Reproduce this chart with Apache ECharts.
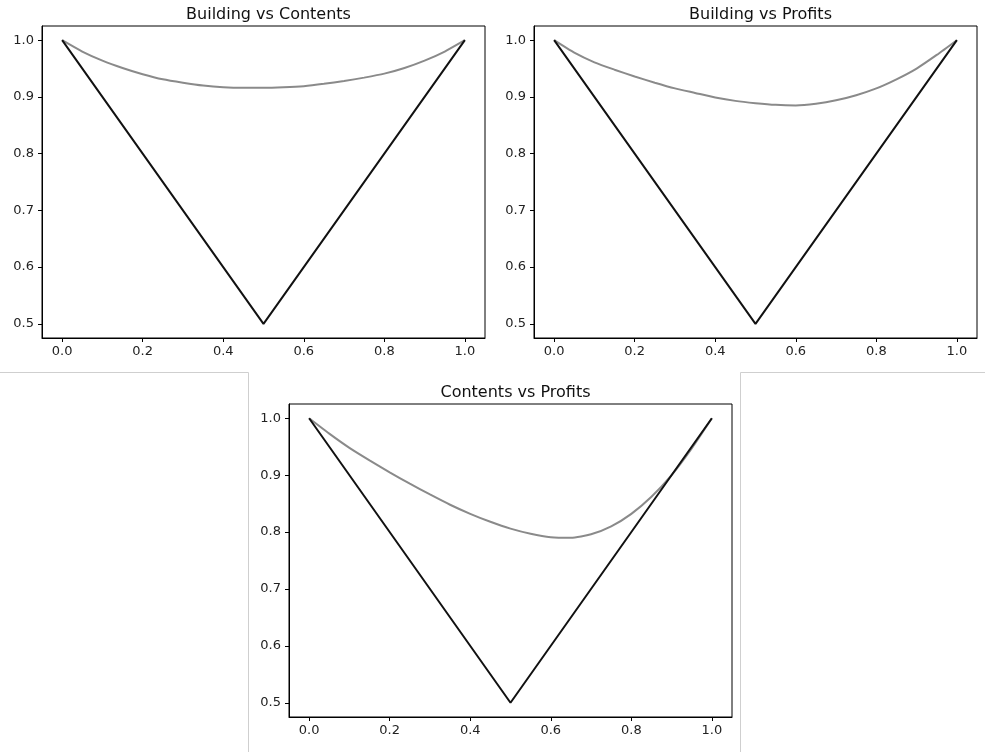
<!DOCTYPE html>
<html>
<head>
<meta charset="utf-8">
<script src="https://cdn.jsdelivr.net/npm/echarts@6/dist/echarts.min.js"></script>
<style>
  html, body { margin: 0; padding: 0; background: #fff; }
  #chart { width: 985px; height: 752px; }
</style>
</head>
<body>
<div id="chart"></div>
<script>
// Shared x positions for the dependence curves
const xs = [0, 0.05, 0.1, 0.15, 0.2, 0.25, 0.3, 0.35, 0.4, 0.45, 0.5,
            0.55, 0.6, 0.65, 0.7, 0.75, 0.8, 0.85, 0.9, 0.95, 1.0];

// Curve values per pair
const buildingContents = [1.0, 0.980, 0.964, 0.951, 0.940, 0.931, 0.925, 0.920, 0.917, 0.916, 0.916,
                          0.917, 0.919, 0.923, 0.928, 0.934, 0.941, 0.951, 0.964, 0.980, 1.0];
const buildingProfits  = [1.0, 0.978, 0.961, 0.948, 0.936, 0.925, 0.915, 0.907, 0.899, 0.893, 0.889,
                          0.886, 0.885, 0.888, 0.894, 0.903, 0.915, 0.931, 0.950, 0.974, 1.0];
const contentsProfits  = [1.0, 0.973, 0.948, 0.926, 0.905, 0.885, 0.866, 0.848, 0.832, 0.818, 0.806,
                          0.797, 0.791, 0.790, 0.796, 0.810, 0.832, 0.862, 0.900, 0.947, 1.0];

// Lower bound: max(t, 1 - t)
const boundX = [0, 0.5, 1];
const boundY = [1, 0.5, 1];

const titles = ['Building vs Contents', 'Building vs Profits', 'Contents vs Profits'];
const curves = [buildingContents, buildingProfits, contentsProfits];

const xTicks = [0, 0.2, 0.4, 0.6, 0.8, 1.0];
const yTicks = [0.5, 0.6, 0.7, 0.8, 0.9, 1.0];

const grids = [
  { left: 42, top: 26, width: 443, height: 312 },
  { left: 534, top: 26, width: 443, height: 312 },
  { left: 289, top: 404, width: 443, height: 313 }
];

const FONT = 'DejaVu Sans';
const pair = (a, b) => a.map((v, i) => [v, b[i]]);

const option = {
  animation: false,
  backgroundColor: '#fff',
  title: grids.map((g, i) => ({
    text: titles[i],
    left: g.left + g.width / 2,
    top: g.top - 24,
    textAlign: 'center',
    textStyle: { fontFamily: FONT, fontSize: 16, fontWeight: 'normal', color: '#111' }
  })),
  grid: grids.map(g => Object.assign({ show: true, borderColor: '#000', borderWidth: 1, backgroundColor: '#fff' }, g)),
  xAxis: grids.map((g, i) => ({
    type: 'value', gridIndex: i, min: -0.05, max: 1.05,
    splitLine: { show: false },
    axisLine: { show: true, onZero: false, lineStyle: { color: '#000', width: 1 } },
    axisTick: { show: true, length: 4, inside: false, customValues: xTicks, lineStyle: { color: '#000' } },
    axisLabel: { customValues: xTicks, margin: 7, color: '#222', fontFamily: FONT, fontSize: 13,
                 formatter: v => v.toFixed(1) }
  })),
  yAxis: grids.map((g, i) => ({
    type: 'value', gridIndex: i, min: 0.475, max: 1.025,
    splitLine: { show: false },
    axisLine: { show: true, onZero: false, lineStyle: { color: '#000', width: 1 } },
    axisTick: { show: true, length: 4, inside: false, customValues: yTicks, lineStyle: { color: '#000' } },
    axisLabel: { customValues: yTicks, margin: 8, color: '#222', fontFamily: FONT, fontSize: 13,
                 formatter: v => v.toFixed(1) }
  })),
  series: [].concat(...grids.map((g, i) => [
    {
      type: 'line', xAxisIndex: i, yAxisIndex: i, data: pair(xs, curves[i]),
      smooth: 0.2, symbol: 'none', lineStyle: { color: '#8a8a8a', width: 2 }, z: 2
    },
    {
      type: 'line', xAxisIndex: i, yAxisIndex: i, data: pair(boundX, boundY),
      symbol: 'none', lineStyle: { color: '#111', width: 2 }, z: 3
    }
  ])),
  graphic: [
    { type: 'polyline', shape: { points: [[0, 372.5], [248.5, 372.5], [248.5, 752]] },
      style: { stroke: '#cfcfcf', lineWidth: 1, fill: null }, silent: true },
    { type: 'polyline', shape: { points: [[985, 372.5], [740.5, 372.5], [740.5, 752]] },
      style: { stroke: '#cfcfcf', lineWidth: 1, fill: null }, silent: true }
  ]
};

echarts.init(document.getElementById('chart'), null, { renderer: 'canvas' }).setOption(option);
</script>
</body>
</html>
